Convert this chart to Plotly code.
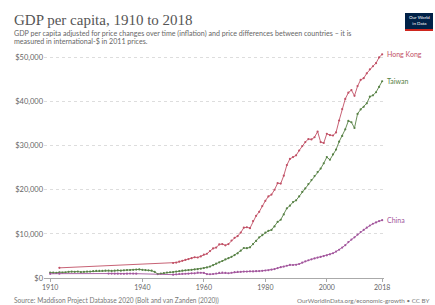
import plotly.graph_objects as go

# ---------------- data (GDP per capita, 2011 int-$) ----------------
hk_years = [1913, 1950] + list(range(1951, 2019))
hk_values = [2300, 3400,
             3500, 3700, 3900, 4100, 4300, 4500, 4700, 4650, 4900,   # 1951-1959
             5300, 5500, 6100, 6700, 6900, 7600, 7700, 7400, 7700, 8500,  # 1960-1969
             9100, 9500, 10300, 11400, 11500, 11300, 12900, 14100, 15000, 16300,  # 1970-1979
             17500, 18500, 18900, 20000, 21500, 21400, 23200, 25600, 27000, 27400,  # 1980-1989
             27800, 28900, 29900, 30800, 31500, 31400, 31900, 33200, 30800, 30600,  # 1990-1999
             32700, 32400, 32300, 33000, 35700, 38300, 40600, 42000, 42600, 41300,  # 2000-2009
             43500, 44900, 45300, 46400, 47300, 48000, 48700, 50000, 50700]        # 2010-2018

tw_years = list(range(1910, 2019))
tw_values = [1250, 1200, 1150, 1300, 1250, 1300, 1400, 1450, 1400, 1450,   # 1910-1919
             1350, 1400, 1450, 1450, 1550, 1600, 1600, 1600, 1650, 1650,   # 1920-1929
             1600, 1650, 1750, 1650, 1750, 1800, 1800, 1850, 1900, 1950,   # 1930-1939
             1850, 1800, 1750, 1650, 1400, 900, 1000, 1100, 1250, 1300,    # 1940-1949
             1350, 1450, 1550, 1650, 1750, 1800, 1850, 1950, 2000, 2100,   # 1950-1959
             2250, 2400, 2600, 2900, 3250, 3550, 3850, 4200, 4500, 4800,   # 1960-1969
             5200, 5600, 6200, 6800, 6750, 6950, 7700, 8400, 9200, 9700,   # 1970-1979
             10300, 10700, 10900, 11700, 12700, 13200, 14400, 15800, 16400, 17200,  # 1980-1989
             17600, 18500, 19500, 20300, 21300, 22200, 23100, 24000, 24800, 26000,  # 1990-1999
             27400, 26800, 28000, 29100, 30900, 32200, 33700, 35600, 35300, 34000,  # 2000-2009
             37200, 38200, 38800, 39600, 41100, 41400, 42100, 43300, 44600]         # 2010-2018

cn_years = [1910, 1913] + list(range(1929, 1939)) + list(range(1950, 2019))
cn_values = [950, 985,
             1000, 1010, 990, 980, 960, 950, 990, 1020, 1000, 980,   # 1929-1938
             760, 830, 910, 950, 960, 990, 1050, 1070, 1200, 1190,   # 1950-1959
             1150, 880, 850, 910, 1020, 1140, 1220, 1140, 1080, 1190,  # 1960-1969
             1330, 1380, 1390, 1450, 1450, 1520, 1480, 1540, 1560, 1630,  # 1970-1979
             1700, 1760, 1880, 2020, 2250, 2450, 2580, 2780, 2960, 2950,  # 1980-1989
             2980, 3170, 3480, 3780, 4020, 4230, 4440, 4620, 4780, 4960,  # 1990-1999
             5150, 5360, 5610, 5990, 6400, 6900, 7450, 8140, 8700, 9230,  # 2000-2009
             9850, 10400, 10900, 11400, 11900, 12300, 12600, 12900, 13100]  # 2010-2018

series_names = ["Hong Kong", "Taiwan", "China"]
series_colors = ["#C15065", "#578145", "#A2559C"]

x_ticks = [1910, 1940, 1960, 1980, 2000, 2018]
y_ticks = [0, 10000, 20000, 30000, 40000, 50000]
y_tick_labels = ["$0", "$10,000", "$20,000", "$30,000", "$40,000", "$50,000"]

title_text = "GDP per capita, 1910 to 2018"
subtitle_lines = [
    "GDP per capita adjusted for price changes over time (inflation) and price differences between countries – it is",
    "measured in international-$ in 2011 prices.",
]
source_text = "Source: Maddison Project Database 2020 (Bolt and van Zanden (2020))"
url_text = "OurWorldInData.org/economic-growth • CC BY"

# ---------------- layout geometry ----------------
W, H = 435, 305
L, R, T, B = 44, 384, 53, 278


def xp(px):
    return (px - L) / (R - L)


def yp(py):
    return (B - py) / (B - T)


fig = go.Figure()
for name, yrs, vals, col in zip(series_names,
                                [hk_years, tw_years, cn_years],
                                [hk_values, tw_values, cn_values],
                                series_colors):
    fig.add_trace(go.Scatter(
        x=yrs, y=vals, name=name, mode="lines+markers",
        line=dict(color=col, width=0.9),
        marker=dict(color=col, size=2.2),
        showlegend=False, hoverinfo="x+y+name",
    ))
    fig.add_annotation(
        x=yrs[-1], y=vals[-1], xref="x", yref="y", text=name,
        showarrow=False, xanchor="left", yanchor="middle", xshift=3,
        font=dict(family="Lato", size=7, color=col),
    )

fig.update_layout(
    width=W, height=H,
    margin=dict(l=L, r=W - R, t=T, b=H - B, pad=0),
    paper_bgcolor="white", plot_bgcolor="white",
    font=dict(family="Lato", color="#666"),
    xaxis=dict(
        range=[1908, 2018.6], tickvals=x_ticks, ticktext=[str(v) for v in x_ticks],
        showgrid=False, zeroline=False, showline=True, linecolor="#aaa", linewidth=1,
        ticks="outside", ticklen=3, tickcolor="#aaa",
        tickfont=dict(family="Lato", size=7, color="#666"),
    ),
    yaxis=dict(
        range=[0, 51000], tickvals=y_ticks, ticktext=y_tick_labels,
        showgrid=True, gridcolor="#dddddd", griddash="dot", gridwidth=1,
        zeroline=False, showline=False, ticks="",
        tickfont=dict(family="Lato", size=7.5, color="#666"),
    ),
)

# title & subtitle
fig.add_annotation(x=xp(12), y=yp(20), xref="paper", yref="paper", text=title_text,
                   showarrow=False, xanchor="left", yanchor="middle",
                   font=dict(family="Liberation Serif", size=15, color="#555"))
for i, line in enumerate(subtitle_lines):
    fig.add_annotation(x=xp(12), y=yp(33 + 9 * i), xref="paper", yref="paper", text=line,
                       showarrow=False, xanchor="left", yanchor="middle",
                       font=dict(family="Lato", size=7.1, color="#666"))

# footer
fig.add_annotation(x=xp(12), y=yp(300), xref="paper", yref="paper", text=source_text,
                   showarrow=False, xanchor="left", yanchor="middle",
                   font=dict(family="Lato", size=6.6, color="#777"))
fig.add_annotation(x=xp(432), y=yp(300), xref="paper", yref="paper", text=url_text,
                   showarrow=False, xanchor="right", yanchor="middle",
                   font=dict(family="Lato", size=6.3, color="#777"))

# logo
fig.add_shape(type="rect", xref="paper", yref="paper",
              x0=xp(405), x1=xp(433), y0=yp(31), y1=yp(13),
              fillcolor="#002147", line=dict(width=0), layer="above")
fig.add_shape(type="rect", xref="paper", yref="paper",
              x0=xp(405), x1=xp(433), y0=yp(31), y1=yp(29),
              fillcolor="#CE261E", line=dict(width=0), layer="above")
fig.add_annotation(x=xp(419), y=yp(21), xref="paper", yref="paper",
                   text="Our World<br>in Data", showarrow=False,
                   xanchor="center", yanchor="middle",
                   font=dict(family="Lato", size=4.5, color="white"))

fig.write_html(
    "out.html",
    config={"displayModeBar": False},
    post_script="document.body.style.margin='0';document.body.style.overflow='hidden';",
)
